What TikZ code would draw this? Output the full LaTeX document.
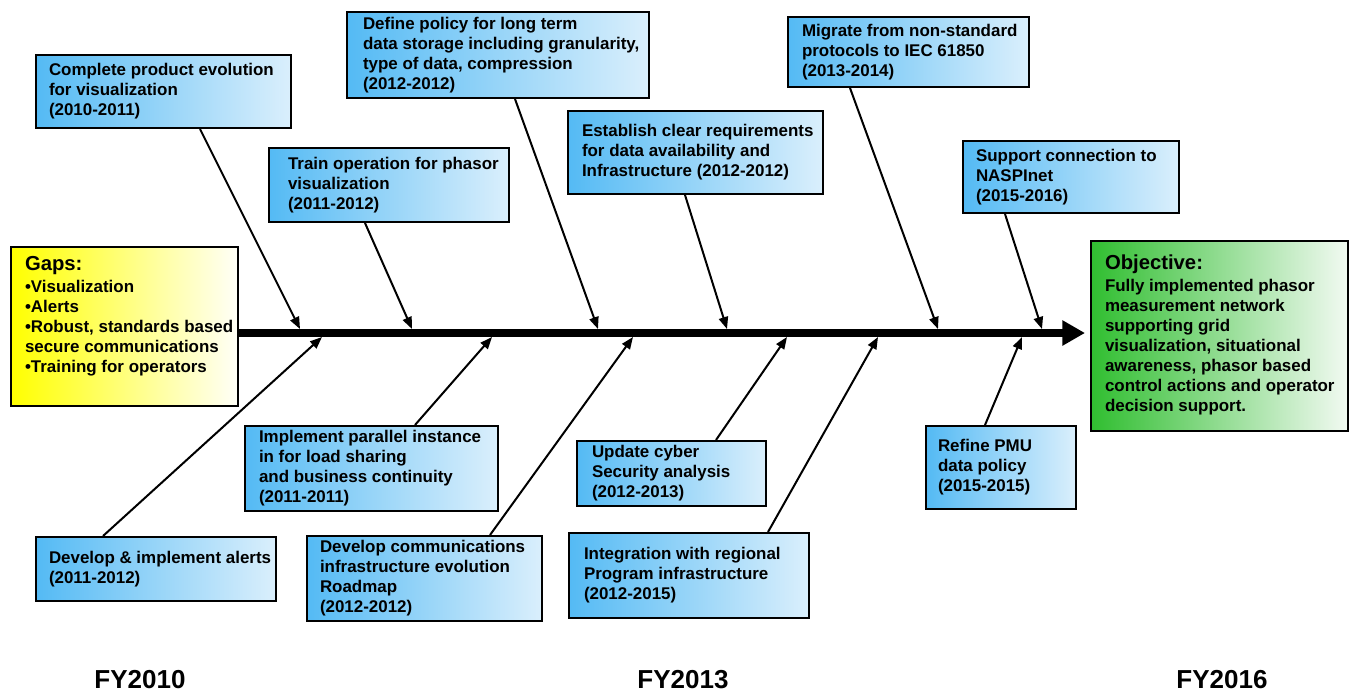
\documentclass[tikz,border=0pt]{standalone}
\usepackage{fontspec}
\setmainfont{Liberation Sans}
\usetikzlibrary{arrows.meta,calc}
\newdimen\pxd \pxd=0.75pt
% left-aligned block of lines, set in a box of the given width (in px)
\newcommand\lines[2]{\makebox[#1\pxd][l]{\begin{tabular}{@{}l@{}}#2\end{tabular}}}
\definecolor{skyL}{RGB}{84,186,244}
\definecolor{skyR}{RGB}{218,239,252}
\definecolor{gapL}{RGB}{255,255,0}
\definecolor{gapR}{RGB}{255,255,248}
\definecolor{objL}{RGB}{48,190,48}
\definecolor{objR}{RGB}{242,250,242}
\begin{document}
\begin{tikzpicture}[x=0.75pt,y=-0.75pt,
  card/.style={draw=black, line width=1.5pt, inner sep=0pt, anchor=north west,
    left color=skyL, right color=skyR,
    font=\fontsize{12.7}{15}\selectfont\bfseries},
  sz/.style 2 args={minimum width=#1*0.75pt, minimum height=#2*0.75pt},
  rib/.style={line width=1.5pt, -{Triangle[length=9pt,width=7pt]}},
  spine/.style={line width=6pt, -{Triangle[length=17pt,width=18pt]}},
  year/.style={font=\fontsize{19.5}{22}\selectfont\bfseries}]
\useasboundingbox (0,0) rectangle (1349,693);

% gaps and objective
\node[card, sz={227}{159}, left color=gapL, right color=gapR] (gaps) at (10,246)
  {\lines{199}{{\fontsize{15.2}{18}\selectfont Gaps:}\\[1.5pt]
   •Visualization\\•Alerts\\•Robust, standards based\\secure communications\\•Training for operators\\[14pt]}};
\node[card, sz={257}{190}, left color=objL, right color=objR] (obj) at (1090,240)
  {\lines{229}{{\fontsize{15.2}{18}\selectfont Objective:}\\[1.5pt]
   Fully implemented phasor\\measurement network\\supporting grid\\visualization, situational\\awareness, phasor based\\control actions and operator\\decision support.}};

% upper activities
\node[card, sz={255}{73}] (b1) at (35,54)
  {\lines{229}{Complete product evolution\\for visualization\\(2010-2011)}};
\node[card, sz={240}{74}] (b2) at (268,147)
  {\lines{202}{Train operation for phasor\\visualization\\(2011-2012)}};
\node[card, sz={302}{86}] (b3) at (346,11)
  {\lines{270}{Define policy for long term\\data storage including granularity,\\type of data, compression\\(2012-2012)}};
\node[card, sz={255}{83}] (b4) at (567,110)
  {\lines{227}{Establish clear requirements\\for data availability and\\Infrastructure (2012-2012)}};
\node[card, sz={241}{70}] (b5) at (787,16)
  {\lines{213}{Migrate from non-standard\\protocols to IEC 61850\\(2013-2014)}};
\node[card, sz={216}{72}] (b6) at (962,140)
  {\lines{190}{Support connection to\\NASPInet\\(2015-2016)}};

% lower activities
\node[card, sz={240}{64}] (c1) at (35,536)
  {\lines{214}{Develop \& implement alerts\\(2011-2012)}};
\node[card, sz={253}{85}] (c2) at (244,425)
  {\lines{225}{Implement parallel instance\\in for load sharing\\and business continuity\\(2011-2011)}};
\node[card, sz={235}{85}] (c3) at (306,535)
  {\lines{209}{Develop communications\\infrastructure evolution\\Roadmap\\(2012-2012)}};
\node[card, sz={189}{65}] (c4) at (576,440)
  {\lines{159}{Update cyber\\Security analysis\\(2012-2013)}};
\node[card, sz={240}{85}] (c5) at (568,532)
  {\lines{210}{Integration with regional\\Program infrastructure\\(2012-2015)}};
\node[card, sz={150}{83}] (c6) at (925,425)
  {\lines{126}{Refine PMU\\data policy\\(2015-2015)}};

% spine
\coordinate (tip) at (1085,333);
\draw[spine] (gaps.east |- tip) -- (tip);

% rib end points on the spine
\foreach \n/\x in {t1/300,t2/412,t3/598,t4/727,t5/938,t6/1042}
  \coordinate (\n) at (\x,329);
\foreach \n/\x in {u1/322,u2/492,u3/633,u4/787,u5/878,u6/1022}
  \coordinate (\n) at (\x,337);

\draw[rib] ($(b1.south west)+(165,0)$) -- (t1);
\draw[rib] ($(b2.south west)+(97,0)$) -- (t2);
\draw[rib] ($(b3.south west)+(169,0)$) -- (t3);
\draw[rib] ($(b4.south west)+(118,0)$) -- (t4);
\draw[rib] ($(b5.south west)+(63,0)$) -- (t5);
\draw[rib] ($(b6.south west)+(43,0)$) -- (t6);

\draw[rib] ($(c1.north west)+(68,0)$) -- (u1);
\draw[rib] ($(c2.north west)+(171,0)$) -- (u2);
\draw[rib] ($(c3.north west)+(184,0)$) -- (u3);
\draw[rib] ($(c4.north west)+(140,0)$) -- (u4);
\draw[rib] ($(c5.north west)+(200,0)$) -- (u5);
\draw[rib] ($(c6.north west)+(60,0)$) -- (u6);

% fiscal years
\node[year] (fy1) at (140,680) {FY2010};
\node[year] (fy2) at (683,680) {FY2013};
\node[year] (fy3) at (1222,680) {FY2016};
\end{tikzpicture}
\end{document}
